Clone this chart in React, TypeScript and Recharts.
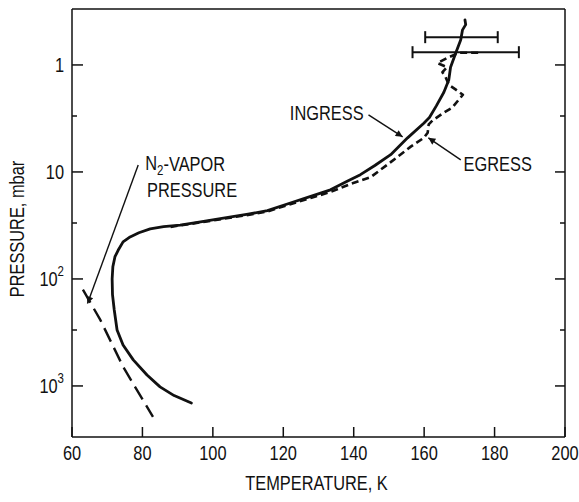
import { ScatterChart, Scatter, XAxis, YAxis, ErrorBar, ReferenceLine, ReferenceDot, Label } from "recharts";

const INK = "#111";
const FONT = "'Liberation Sans', Arial, sans-serif";
const SQUEEZE = 0.82; // the lettering is a tall narrow sans

// temperature (K) vs pressure (mbar)
const ingress = [
    { t: 93.9, p: 1445 }, { t: 89, p: 1230 }, { t: 85, p: 1020 }, { t: 81.3, p: 789 },
    { t: 77.4, p: 571 }, { t: 74.5, p: 415 }, { t: 72.8, p: 300 }, { t: 72, p: 195 },
    { t: 71.5, p: 140 }, { t: 71.4, p: 100 }, { t: 71.6, p: 77 }, { t: 72.2, p: 62 },
    { t: 73.1, p: 54 }, { t: 74.5, p: 45 }, { t: 76.5, p: 40.5 }, { t: 79, p: 37 },
    { t: 82.2, p: 34 }, { t: 86, p: 32.5 }, { t: 90.7, p: 31.4 }, { t: 96.5, p: 29.3 },
    { t: 103, p: 27 }, { t: 110, p: 24.8 }, { t: 115.5, p: 23 }, { t: 122, p: 19.5 },
    { t: 128, p: 16.8 }, { t: 133.4, p: 14.7 }, { t: 138, p: 12.3 }, { t: 141.9, p: 10.6 },
    { t: 146, p: 8.7 }, { t: 150.5, p: 6.9 }, { t: 155.3, p: 4.8 }, { t: 159.9, p: 3.5 },
    { t: 161.5, p: 3.1 }, { t: 163.5, p: 2.4 }, { t: 165.6, p: 1.8 }, { t: 167, p: 1.38 },
    { t: 167.5, p: 1.05 }, { t: 169, p: 0.77 }, { t: 170.4, p: 0.58 }, { t: 170.9, p: 0.47 },
    { t: 171.8, p: 0.42 }, { t: 171.6, p: 0.38 },
];

const egress = [
    { t: 88, p: 32.6 }, { t: 96.5, p: 29.6 }, { t: 103, p: 27.4 }, { t: 110, p: 25.2 },
    { t: 115.5, p: 23.4 }, { t: 122, p: 20 }, { t: 128, p: 17.4 }, { t: 133.4, p: 15.4 },
    { t: 139, p: 13 }, { t: 144.8, p: 11.2 }, { t: 150.5, p: 8.1 }, { t: 156.2, p: 5.8 },
    { t: 159.9, p: 4.8 }, { t: 161, p: 4.3 }, { t: 161.3, p: 3.6 }, { t: 162.4, p: 3.3 },
    { t: 165.5, p: 2.8 }, { t: 168, p: 2.5 }, { t: 171, p: 1.9 }, { t: 169, p: 1.7 },
    { t: 167, p: 1.53 }, { t: 166.1, p: 1.3 }, { t: 165.2, p: 1.17 }, { t: 166.5, p: 1.05 },
    { t: 163.8, p: 0.96 }, { t: 166.6, p: 0.86 }, { t: 169.8, p: 0.77 }, { t: 176, p: 0.77 },
];

const n2Vapor = [
    { t: 63.1, p: 126 }, { t: 68, p: 240 }, { t: 74.5, p: 660 }, { t: 83, p: 1950 },
];

const errorBars = [
    { t: 170.6, p: 0.55, err: 10.3 },
    { t: 171.8, p: 0.76, err: 15.1 },
];

const arrows = [
    { from: { t: 78.8, p: 8.6 }, to: { t: 64.4, p: 170 } },
    { from: { t: 144.2, p: 2.93 }, to: { t: 153.9, p: 4.7 } },
    { from: { t: 170.4, p: 7.7 }, to: { t: 161.2, p: 4.8 } },
];

const notes = [
    { t: 142.8, p: 2.81, text: "INGRESS", anchor: "end" },
    { t: 171.2, p: 8.4, text: "EGRESS", anchor: "start" },
    { t: 80.8, p: 8.3, text: "N|2|-VAPOR", anchor: "start" },
    { t: 81.3, p: 14.7, text: "PRESSURE", anchor: "start" },
];

const tempTicks = [60, 80, 100, 120, 140, 160, 180, 200];
const pressureTicks = [1, 3, 10, 30, 100, 300, 1000];
const decadeLabels: Record<number, [string, string]> = {
    1: ["1", ""],
    10: ["10", ""],
    100: ["10", "2"],
    1000: ["10", "3"],
};

const noDot = () => <g />;

// narrow lettering: real text, squeezed horizontally round its anchor point
function Txt({ x, y, anchor = "start", rotate = 0, baseline, children }: any) {
    return (
        <text transform={`translate(${x} ${y}) rotate(${rotate}) scale(${SQUEEZE} 1)`} textAnchor={anchor}
            dominantBaseline={baseline} fontFamily={FONT} fontSize={20} fill={INK}>
            {children}
        </text>
    );
}

function LeftTick({ x, y, payload }: any) {
    const lab = decadeLabels[payload.value];
    return (
        <g>
            <line x1={x} x2={x + (lab ? 11 : 5)} y1={y} y2={y} stroke={INK} strokeWidth={1.5} />
            {lab && (
                <Txt x={x - 8} y={y} anchor="end" baseline="central">
                    {lab[0]}
                    {lab[1] && <tspan dy={-8} fontSize={14}>{lab[1]}</tspan>}
                </Txt>
            )}
        </g>
    );
}

function RightTick({ x, y, payload }: any) {
    const major = !!decadeLabels[payload.value];
    return <line x1={x} x2={x - (major ? 10 : 5)} y1={y} y2={y} stroke={INK} strokeWidth={1.5} />;
}

function BottomTick({ x, y, payload }: any) {
    return (
        <g>
            <line x1={x} x2={x} y1={y} y2={y - 10} stroke={INK} strokeWidth={1.5} />
            <Txt x={x} y={y + 23} anchor="middle">{payload.value}</Txt>
        </g>
    );
}

function TopTick({ x, y }: any) {
    return <line x1={x} x2={x} y1={y} y2={y + 10} stroke={INK} strokeWidth={1.5} />;
}

function NoteText({ cx, cy, text, anchor }: any) {
    const parts = text.split("|");
    return (
        <Txt x={cx} y={cy} anchor={anchor} baseline="central">
            {parts[0]}
            {parts[1] && <tspan dy={6} fontSize={14}>{parts[1]}</tspan>}
            {parts[2] && <tspan dy={-6}>{parts[2]}</tspan>}
        </Txt>
    );
}

export default function App() {
    return (
        <div style={{ position: "absolute", left: 0, top: 0, background: "#fff" }}>
            <ScatterChart width={579} height={502} margin={{ top: 8, right: 13, bottom: 5, left: 12 }}>
                <defs>
                    <marker id="arrowHead" viewBox="0 0 10 10" refX="10" refY="5" markerWidth="11" markerHeight="7"
                        markerUnits="userSpaceOnUse" orient="auto">
                        <path d="M0,0 L10,5 L0,10 z" fill={INK} />
                    </marker>
                </defs>

                <XAxis dataKey="t" type="number" domain={[60, 200]} ticks={tempTicks} allowDataOverflow
                    height={60} tickSize={0} tickMargin={0} tickLine={false} tick={BottomTick}
                    axisLine={{ stroke: INK, strokeWidth: 1.5 }}>
                    <Label content={({ viewBox }: any) => (
                        <Txt x={viewBox.x + viewBox.width / 2 - 2} y={viewBox.y + viewBox.height - 7} anchor="middle">
                            TEMPERATURE,  K
                        </Txt>
                    )} />
                </XAxis>
                <XAxis xAxisId="top" orientation="top" type="number" domain={[60, 200]} ticks={tempTicks} allowDataOverflow
                    height={1} tickSize={0} tickMargin={0} tickLine={false} tick={TopTick}
                    axisLine={{ stroke: INK, strokeWidth: 1.5 }} />
                <YAxis dataKey="p" type="number" scale="log" domain={[0.3, 3000]} ticks={pressureTicks} reversed allowDataOverflow
                    width={60} tickSize={0} tickMargin={0} tickLine={false} tick={LeftTick}
                    axisLine={{ stroke: INK, strokeWidth: 1.5 }}
                    label={{
                        content: ({ viewBox }: any) => (
                            <Txt x={viewBox.x + 5} y={viewBox.y + viewBox.height / 2 + 6} rotate={-90}
                                anchor="middle" baseline="central">
                                PRESSURE,  mbar
                            </Txt>
                        ),
                    }} />
                <YAxis yAxisId="right" orientation="right" type="number" scale="log" domain={[0.3, 3000]} ticks={pressureTicks} reversed allowDataOverflow
                    width={1} tickSize={0} tickMargin={0} tickLine={false} tick={RightTick}
                    axisLine={{ stroke: INK, strokeWidth: 1.5 }} />

                <Scatter data={n2Vapor} fill={INK} shape={noDot} line={{ stroke: INK, strokeWidth: 2.4, strokeDasharray: "15 7" }}
                    lineType="joint" isAnimationActive={false} />
                <Scatter data={egress} fill={INK} shape={noDot} line={{ stroke: INK, strokeWidth: 2.6, strokeDasharray: "7 4", strokeLinejoin: "round" }}
                    lineType="joint" isAnimationActive={false} />
                <Scatter data={ingress} fill={INK} shape={noDot} line={{ stroke: INK, strokeWidth: 2.8, strokeLinejoin: "round", strokeLinecap: "round" }}
                    lineType="joint" isAnimationActive={false} />
                <Scatter data={errorBars} fill={INK} shape={noDot} isAnimationActive={false}>
                    <ErrorBar dataKey="err" direction="x" width={6} stroke={INK} strokeWidth={2} isAnimationActive={false} />
                </Scatter>

                {arrows.map((a, i) => (
                    <ReferenceLine key={i} segment={[{ x: a.from.t, y: a.from.p }, { x: a.to.t, y: a.to.p }]}
                        stroke={INK} strokeWidth={1.4} markerEnd="url(#arrowHead)" />
                ))}
                {notes.map((n, i) => (
                    <ReferenceDot key={i} x={n.t} y={n.p} r={0}
                        shape={(props: any) => <NoteText cx={props.cx} cy={props.cy} text={n.text} anchor={n.anchor} />} />
                ))}
            </ScatterChart>
        </div>
    );
}
